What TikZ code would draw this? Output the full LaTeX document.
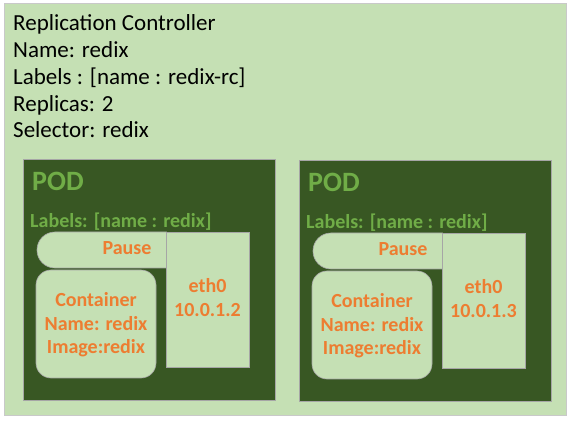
\documentclass[tikz,border=0pt]{standalone}
\usepackage{fontspec}
\setmainfont{Carlito}
\definecolor{lightg}{HTML}{C5E0B4}
\definecolor{darkg}{HTML}{385723}
\definecolor{podtxt}{HTML}{70AD47}
\definecolor{orng}{HTML}{ED7D31}
\definecolor{edgegray}{HTML}{A6A6A6}
\definecolor{outeredge}{HTML}{C9C9C9}
\newcommand\drawpod[4]{%
  \begin{scope}[shift={(#2,#3)}]
    \node[podbox] (#1box) at (149,279.5) {};
    \node[podtitle] (#1title) at (32,191) {POD};
    \node[podlabel] (#1labels) at (30,228) {Labels: [name : redix]};
    \draw[inshape] (166.5,232) [rounded corners=17.9pt] -- (37,232) -- (37,268) [sharp corners] -- (166.5,268) -- cycle;
    \node[orngtext, anchor=base] (#1pause) at (127,255) {Pause};
    \node[ethbox] (#1eth) at (207.5,299.5) {};
    \node[orngtext, anchor=base] (#1ethname) at (207.5,293) {eth0};
    \node[orngtext, anchor=base] (#1ip) at (207.5,317) {#4};
    \node[contbox] (#1cont) at (96,324) {};
    \node[orngtext, anchor=base] (#1c1) at (96,307) {Container};
    \node[orngtext, anchor=base] (#1c2) at (96,330.5) {Name: redix};
    \node[orngtext, anchor=base] (#1c3) at (96,354) {Image:redix};
  \end{scope}}
\begin{document}
\begin{tikzpicture}[x=1pt,y=-1pt,
  rctext/.style={anchor=base west, inner sep=0pt, font=\fontsize{23}{27}\selectfont},
  podbox/.style={draw=edgegray, line width=0.8pt, fill=darkg, minimum width=252pt, minimum height=241pt, inner sep=0pt},
  podtitle/.style={anchor=base west, inner sep=0pt, text=podtxt, font=\fontsize{28}{32}\selectfont\bfseries},
  podlabel/.style={anchor=base west, inner sep=0pt, text=podtxt, font=\fontsize{20}{24}\selectfont\bfseries},
  orngtext/.style={inner sep=0pt, text=orng, font=\fontsize{20}{24}\selectfont\bfseries},
  inshape/.style={draw=edgegray, line width=0.6pt, fill=lightg},
  ethbox/.style={inshape, minimum width=83pt, minimum height=135pt, inner sep=0pt},
  contbox/.style={inshape, rounded corners=15pt, minimum width=120pt, minimum height=108pt, inner sep=0pt}]
\useasboundingbox (0,0) rectangle (574,425);
\fill[white] (0,0) rectangle (574,425);
\node[draw=outeredge, line width=0.8pt, fill=lightg, minimum width=562pt, minimum height=412pt, inner sep=0pt] (rc) at (285,209) {};
\node[rctext] (rc1) at (13,31) {Replication Controller};
\node[rctext] (rc2) at (13,58) {Name: redix};
\node[rctext] (rc3) at (13,85) {Labels : [name : redix-rc]};
\node[rctext] (rc4) at (13,112) {Replicas: 2};
\node[rctext] (rc5) at (13,138) {Selector: redix};
\drawpod{a}{0}{0}{10.0.1.2}
\drawpod{b}{276}{1}{10.0.1.3}
\end{tikzpicture}
\end{document}
